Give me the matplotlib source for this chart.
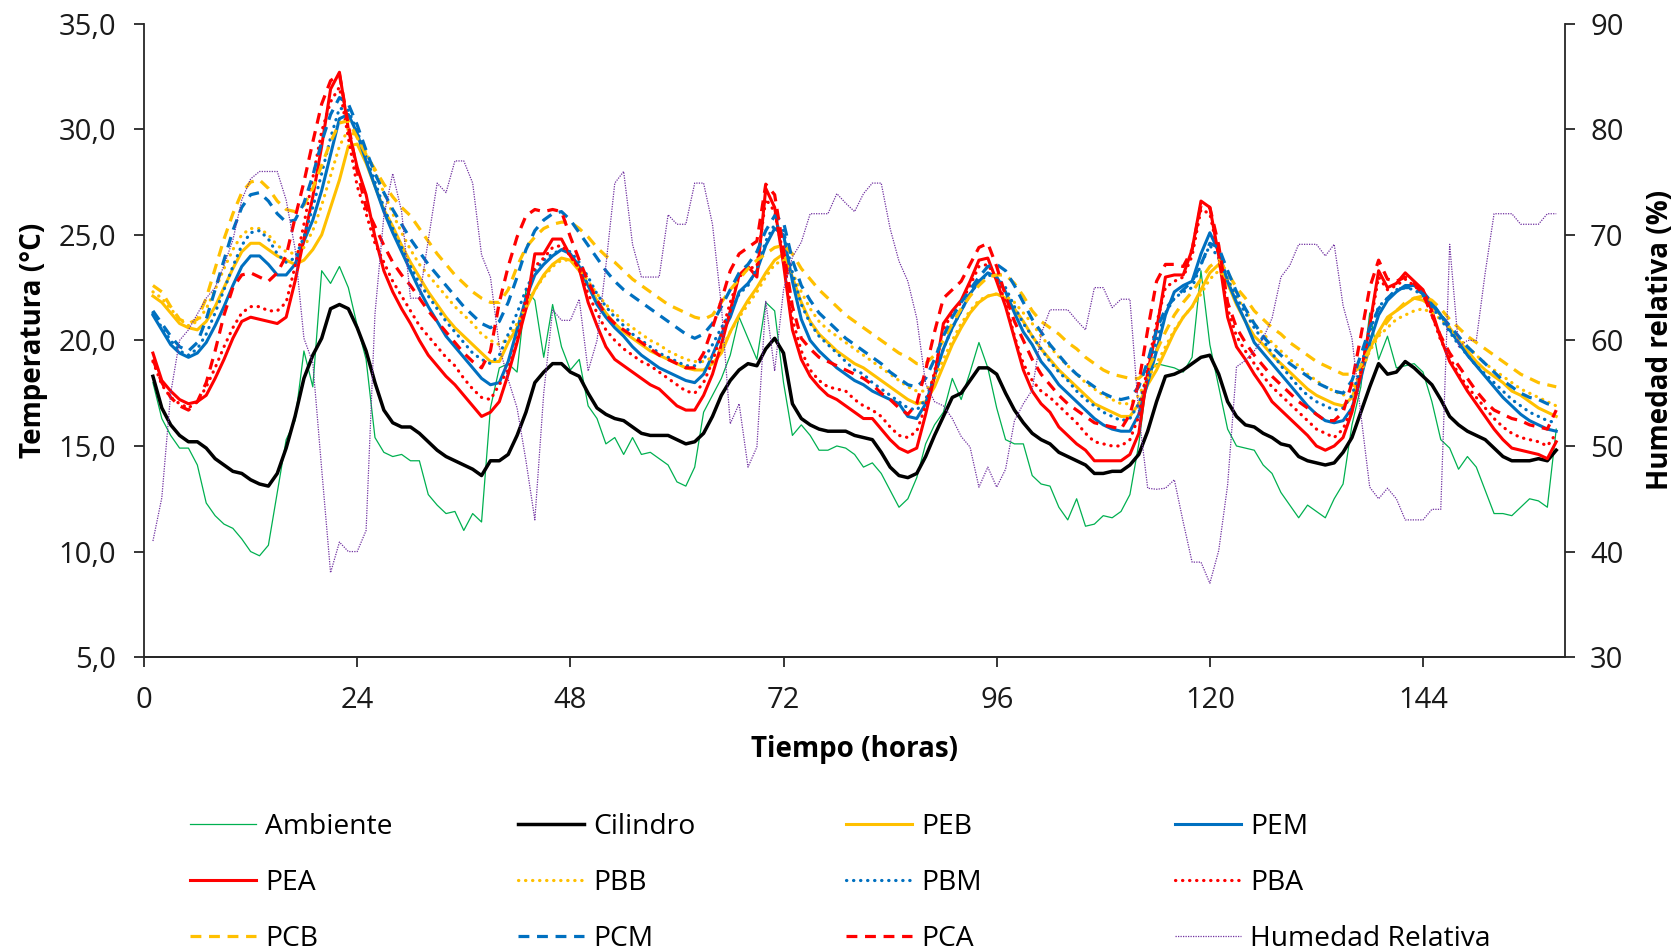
import matplotlib
matplotlib.use("Agg")
import matplotlib.pyplot as plt
import numpy as np
from matplotlib.ticker import FuncFormatter

plt.rcParams["font.family"] = ["Open Sans", "DejaVu Sans"]

# hourly readings, hour 1 .. 159
hours = np.arange(1, 160)

ambiente = [
    18.0, 16.3, 15.5, 14.9, 14.9, 14.1, 12.3, 11.7, 11.3, 11.1,
    10.6, 10.0, 9.8, 10.3, 12.8, 15.3, 16.2, 19.5, 17.8, 23.3,
    22.7, 23.5, 22.5, 20.7, 19.1, 15.4, 14.7, 14.5, 14.6, 14.3,
    14.3, 12.7, 12.2, 11.8, 11.9, 11.0, 11.8, 11.4, 16.8, 18.7,
    18.9, 18.5, 22.4, 21.9, 19.2, 21.7, 19.7, 18.6, 19.1, 16.9,
    16.3, 15.1, 15.4, 14.6, 15.4, 14.6, 14.7, 14.4, 14.1, 13.3,
    13.1, 14.0, 16.6, 17.4, 18.2, 19.3, 21.1, 20.1, 19.1, 21.8,
    21.4, 18.0, 15.5, 16.0, 15.5, 14.8, 14.8, 15.0, 14.9, 14.6,
    14.0, 14.2, 13.7, 12.9, 12.1, 12.5, 13.5, 15.1, 16.0, 16.6,
    18.2, 17.2, 18.5, 19.9, 18.7, 16.8, 15.3, 15.1, 15.1, 13.6,
    13.2, 13.1, 12.1, 11.5, 12.5, 11.2, 11.3, 11.7, 11.6, 11.9,
    12.7, 15.1, 18.4, 18.9, 18.8, 18.7, 18.5, 19.2, 23.3, 19.8,
    17.8, 15.8, 15.0, 14.9, 14.8, 14.1, 13.7, 12.8, 12.2, 11.6,
    12.2, 11.9, 11.6, 12.5, 13.2, 16.0, 17.8, 21.3, 19.1, 20.2,
    18.7, 18.8, 18.9, 18.5, 17.1, 15.3, 14.9, 13.9, 14.5, 14.0,
    12.9, 11.8, 11.8, 11.7, 12.1, 12.5, 12.4, 12.1, 15.8,
]

cilindro = [
    18.3, 16.8, 16.0, 15.5, 15.2, 15.2, 14.9, 14.4, 14.1, 13.8,
    13.7, 13.4, 13.2, 13.1, 13.7, 14.9, 16.4, 18.2, 19.3, 20.1,
    21.5, 21.7, 21.5, 20.6, 19.5, 18.0, 16.7, 16.1, 15.9, 15.9,
    15.6, 15.2, 14.8, 14.5, 14.3, 14.1, 13.9, 13.6, 14.3, 14.3,
    14.6, 15.5, 16.6, 18.0, 18.5, 18.9, 18.9, 18.5, 18.3, 17.5,
    16.8, 16.5, 16.3, 16.2, 15.9, 15.6, 15.5, 15.5, 15.5, 15.3,
    15.1, 15.2, 15.6, 16.4, 17.4, 18.1, 18.6, 18.9, 18.8, 19.6,
    20.1, 19.4, 17.0, 16.3, 16.0, 15.8, 15.7, 15.7, 15.7, 15.5,
    15.4, 15.3, 14.7, 14.0, 13.6, 13.5, 13.7, 14.5, 15.5, 16.4,
    17.3, 17.5, 18.1, 18.7, 18.7, 18.4, 17.5, 16.7, 16.1, 15.6,
    15.3, 15.1, 14.7, 14.5, 14.3, 14.1, 13.7, 13.7, 13.8, 13.8,
    14.1, 14.6, 15.7, 17.1, 18.3, 18.4, 18.6, 18.9, 19.2, 19.3,
    18.4, 17.1, 16.4, 16.0, 15.9, 15.6, 15.4, 15.1, 15.0, 14.5,
    14.3, 14.2, 14.1, 14.2, 14.7, 15.4, 16.6, 17.8, 18.9, 18.4,
    18.5, 19.0, 18.7, 18.3, 17.9, 17.2, 16.4, 16.0, 15.7, 15.5,
    15.3, 14.9, 14.5, 14.3, 14.3, 14.3, 14.4, 14.3, 14.8,
]

peb = [
    22.1, 21.8, 21.3, 20.8, 20.6, 20.5, 20.9, 21.6, 22.5, 23.4,
    24.2, 24.6, 24.6, 24.3, 24.0, 23.8, 23.6, 23.8, 24.3, 25.0,
    26.3, 27.6, 29.2, 29.3, 28.4, 27.3, 26.2, 25.4, 24.5, 23.7,
    23.0, 22.3, 21.7, 21.1, 20.6, 20.2, 19.8, 19.4, 19.0, 19.0,
    19.9, 20.6, 21.5, 22.4, 23.1, 23.6, 23.9, 23.8, 23.3, 22.6,
    21.9, 21.3, 20.8, 20.4, 20.1, 19.8, 19.5, 19.3, 19.1, 18.9,
    18.7, 18.6, 18.6, 18.9, 19.4, 20.4, 21.2, 21.9, 22.5, 23.2,
    23.8, 24.1, 23.0, 21.8, 20.9, 20.3, 19.9, 19.5, 19.2, 18.9,
    18.7, 18.4, 18.1, 17.8, 17.5, 17.2, 17.0, 17.1, 17.8, 18.8,
    19.8, 20.6, 21.3, 21.8, 22.1, 22.2, 22.0, 21.5, 20.9, 20.2,
    19.6, 19.1, 18.6, 18.2, 17.8, 17.4, 17.0, 16.8, 16.6, 16.4,
    16.4, 17.0, 17.9, 18.6, 19.5, 20.4, 21.1, 21.6, 22.4, 23.2,
    23.6, 22.7, 21.7, 20.9, 20.2, 19.8, 19.3, 18.9, 18.5, 18.1,
    17.7, 17.4, 17.2, 17.0, 16.9, 17.3, 18.4, 19.6, 20.4, 21.1,
    21.4, 21.7, 22.0, 21.9, 21.6, 21.2, 20.6, 20.0, 19.5, 19.0,
    18.6, 18.3, 18.0, 17.6, 17.4, 17.1, 16.8, 16.6, 16.4,
]

pem = [
    21.2, 20.5, 19.8, 19.4, 19.2, 19.4, 19.9, 20.7, 21.6, 22.6,
    23.5, 24.0, 24.0, 23.6, 23.1, 23.1, 23.6, 24.7, 25.7, 27.1,
    28.8, 30.5, 30.7, 29.8, 28.5, 27.3, 26.1, 25.1, 24.2, 23.3,
    22.4, 21.6, 20.9, 20.2, 19.7, 19.2, 18.7, 18.2, 17.9, 18.0,
    19.0, 20.5, 22.0, 23.1, 23.6, 24.0, 24.3, 24.1, 23.5, 22.6,
    21.7, 21.1, 20.6, 20.2, 19.7, 19.3, 19.0, 18.7, 18.5, 18.3,
    18.1, 18.0, 18.4, 19.3, 20.3, 21.1, 22.3, 22.7, 23.3, 24.5,
    25.3, 25.0, 22.8, 21.0, 20.0, 19.5, 19.1, 18.7, 18.4, 18.1,
    17.9, 17.6, 17.4, 17.2, 17.0, 16.4, 16.3, 17.0, 18.3, 19.6,
    20.6, 21.4, 22.2, 22.8, 23.2, 23.0, 22.3, 21.3, 20.4, 19.8,
    19.0, 18.5, 17.9, 17.5, 17.1, 16.7, 16.3, 16.0, 15.8, 15.7,
    15.7, 16.5, 18.0, 19.5, 21.2, 22.3, 22.6, 22.8, 24.1, 25.1,
    24.2, 22.8, 21.8, 20.9, 19.9, 19.4, 18.9, 18.4, 17.9, 17.4,
    16.9, 16.5, 16.2, 16.1, 16.2, 16.8, 18.2, 19.9, 21.2, 21.9,
    22.3, 22.6, 22.6, 22.3, 21.8, 21.2, 20.5, 19.9, 19.3, 18.8,
    18.3, 17.8, 17.3, 16.9, 16.5, 16.2, 16.0, 15.8, 15.7,
]

pea = [
    19.4, 18.1, 17.6, 17.2, 17.0, 17.1, 17.4, 18.2, 19.1, 20.1,
    20.9, 21.1, 21.0, 20.9, 20.8, 21.1, 22.8, 24.8, 26.8, 29.2,
    31.9, 32.7, 30.0, 28.2, 26.9, 24.9, 23.3, 22.3, 21.5, 20.8,
    20.0, 19.3, 18.8, 18.3, 17.9, 17.4, 16.9, 16.4, 16.6, 17.1,
    18.4, 19.9, 21.5, 24.1, 24.1, 24.8, 24.8, 24.0, 23.4, 21.8,
    20.7, 19.7, 19.1, 18.8, 18.5, 18.2, 17.9, 17.7, 17.3, 16.9,
    16.7, 16.7, 17.4, 18.4, 19.8, 21.4, 23.1, 23.5, 23.0, 27.2,
    26.3, 23.6, 20.5, 19.1, 18.3, 17.8, 17.4, 17.2, 16.9, 16.6,
    16.3, 16.3, 15.8, 15.3, 14.9, 14.7, 14.9, 16.5, 18.3, 20.8,
    21.4, 21.9, 22.8, 23.8, 23.9, 22.8, 21.6, 20.1, 18.6, 17.6,
    17.0, 16.6, 15.9, 15.5, 15.1, 14.8, 14.3, 14.3, 14.3, 14.3,
    14.6, 15.6, 18.5, 20.5, 23.0, 23.1, 23.1, 24.3, 26.6, 26.3,
    24.0, 21.1, 19.7, 19.1, 18.4, 17.8, 17.1, 16.7, 16.3, 15.9,
    15.5, 15.0, 14.8, 15.0, 15.4, 16.6, 18.4, 20.7, 23.3, 22.5,
    22.7, 23.2, 22.8, 22.4, 21.4, 20.1, 19.0, 18.3, 17.6, 17.0,
    16.4, 15.8, 15.3, 14.9, 14.8, 14.7, 14.6, 14.4, 15.2,
]

pbb = [
    22.3, 22.0, 21.5, 21.0, 20.7, 20.9, 21.5, 22.4, 23.4, 24.3,
    25.0, 25.3, 25.3, 25.0, 24.5, 24.2, 24.1, 24.4, 25.2, 26.4,
    27.8, 29.2, 30.0, 29.6, 28.9, 28.0, 27.0, 26.0, 25.1, 24.3,
    23.6, 23.1, 22.6, 22.1, 21.6, 21.2, 20.8, 20.3, 20.0, 19.8,
    20.1, 20.8, 21.6, 22.4, 23.0, 23.5, 23.8, 23.8, 23.4, 22.8,
    22.2, 21.7, 21.3, 20.9, 20.6, 20.3, 20.0, 19.8, 19.5, 19.3,
    19.1, 19.0, 19.0, 19.2, 19.6, 20.4, 21.1, 21.7, 22.3, 23.0,
    23.6, 23.8, 23.2, 22.3, 21.5, 20.9, 20.5, 20.2, 19.9, 19.6,
    19.3, 19.0, 18.7, 18.4, 18.1, 17.8, 17.6, 17.6, 18.2, 19.1,
    20.0, 20.8, 21.4, 21.9, 22.1, 22.2, 22.1, 21.8, 21.3, 20.8,
    20.2, 19.7, 19.2, 18.8, 18.4, 18.0, 17.7, 17.4, 17.2, 17.0,
    17.0, 17.4, 18.2, 18.9, 19.7, 20.5, 21.1, 21.6, 22.2, 22.9,
    23.3, 22.9, 22.1, 21.4, 20.8, 20.3, 19.9, 19.5, 19.1, 18.8,
    18.4, 18.1, 17.8, 17.6, 17.4, 17.7, 18.5, 19.5, 20.2, 20.6,
    21.0, 21.2, 21.4, 21.5, 21.3, 21.0, 20.6, 20.1, 19.7, 19.3,
    18.9, 18.6, 18.3, 18.0, 17.7, 17.5, 17.3, 17.1, 16.9,
]

pbm = [
    21.3, 20.6, 20.0, 19.5, 19.3, 19.6, 20.3, 21.3, 22.4, 23.5,
    24.5, 25.1, 25.2, 24.8, 24.1, 23.7, 23.9, 24.9, 26.3, 27.9,
    29.6, 31.0, 30.9, 29.9, 28.7, 27.5, 26.3, 25.3, 24.4, 23.5,
    22.7, 22.1, 21.5, 20.9, 20.4, 19.9, 19.4, 19.1, 18.9, 19.3,
    20.3, 21.3, 22.4, 23.3, 23.8, 24.1, 24.3, 24.2, 23.7, 23.0,
    22.2, 21.6, 21.1, 20.7, 20.3, 20.0, 19.7, 19.4, 19.2, 19.0,
    18.8, 18.8, 19.1, 19.8, 20.6, 21.3, 22.2, 22.6, 23.4, 24.7,
    25.5, 25.2, 23.2, 21.7, 20.8, 20.2, 19.8, 19.4, 19.0, 18.6,
    18.4, 18.0, 17.7, 17.4, 17.1, 16.8, 16.7, 17.2, 18.3, 19.6,
    20.6, 21.4, 22.2, 22.8, 23.1, 23.0, 22.5, 21.6, 20.8, 20.2,
    19.6, 19.0, 18.5, 18.1, 17.6, 17.2, 16.9, 16.6, 16.4, 16.2,
    16.3, 17.0, 18.4, 20.0, 21.3, 22.0, 22.3, 22.5, 23.6, 24.5,
    23.9, 22.9, 22.0, 21.3, 20.6, 20.0, 19.4, 18.8, 18.3, 17.8,
    17.4, 17.1, 16.9, 16.7, 16.8, 17.4, 18.7, 20.4, 21.6, 22.0,
    22.4, 22.5, 22.4, 22.1, 21.6, 21.0, 20.4, 19.8, 19.3, 18.8,
    18.4, 18.0, 17.6, 17.2, 16.9, 16.6, 16.4, 16.2, 16.1,
]

pba = [
    19.0, 17.9, 17.3, 17.0, 16.8, 17.1, 17.8, 18.7, 19.7, 20.6,
    21.3, 21.6, 21.6, 21.4, 21.4, 21.8, 23.5, 25.5, 27.7, 29.9,
    31.3, 32.0, 29.6, 27.3, 26.0, 24.6, 23.7, 22.8, 22.1, 21.4,
    20.7, 20.2, 19.7, 19.2, 18.8, 18.2, 17.7, 17.3, 17.2, 17.9,
    18.6, 20.0, 22.0, 23.5, 23.9, 24.4, 24.5, 24.0, 23.4, 22.2,
    21.3, 20.5, 20.0, 19.6, 19.3, 19.0, 18.8, 18.5, 18.2, 17.9,
    17.6, 17.5, 18.0, 19.0, 20.3, 21.8, 23.0, 23.4, 23.5, 26.7,
    26.1, 24.0, 21.0, 19.5, 18.6, 18.1, 17.8, 17.7, 17.6, 17.2,
    16.9, 16.7, 16.4, 15.9, 15.5, 15.4, 15.7, 16.9, 18.5, 20.5,
    21.3, 21.8, 22.6, 23.5, 23.6, 22.9, 21.8, 20.2, 18.9, 18.1,
    17.6, 17.3, 16.9, 16.5, 16.1, 15.6, 15.2, 15.1, 15.0, 15.0,
    15.3, 16.4, 18.8, 20.8, 22.5, 22.8, 23.0, 24.0, 26.2, 26.0,
    24.0, 21.5, 20.2, 19.5, 18.9, 18.3, 17.8, 17.4, 17.0, 16.6,
    16.2, 15.8, 15.6, 15.4, 15.8, 16.8, 18.5, 20.6, 23.0, 22.4,
    22.6, 22.9, 22.6, 22.2, 21.2, 20.0, 19.2, 18.4, 17.8, 17.3,
    16.8, 16.3, 15.9, 15.6, 15.4, 15.3, 15.2, 15.0, 15.6,
]

pcb = [
    22.6, 22.3, 21.6, 21.0, 20.8, 21.0, 22.0, 23.4, 24.8, 26.0,
    27.0, 27.5, 27.6, 27.2, 26.6, 26.2, 26.1, 26.4, 27.2, 28.3,
    29.4, 30.3, 30.4, 29.6, 28.8, 28.1, 27.4, 26.8, 26.3, 25.9,
    25.3, 24.7, 24.1, 23.6, 23.1, 22.7, 22.3, 22.0, 21.8, 21.8,
    22.4, 23.5, 24.4, 24.9, 25.3, 25.5, 25.6, 25.6, 25.3, 24.9,
    24.4, 24.0, 23.7, 23.3, 22.9, 22.6, 22.3, 22.0, 21.7, 21.5,
    21.3, 21.1, 21.0, 21.2, 21.8, 22.4, 22.9, 23.4, 23.8, 24.1,
    24.4, 24.5, 24.1, 23.4, 22.9, 22.4, 22.0, 21.6, 21.2, 20.9,
    20.6, 20.3, 20.0, 19.7, 19.4, 19.2, 18.9, 18.9, 19.3, 20.0,
    20.8, 21.5, 22.1, 22.6, 23.0, 23.1, 23.1, 22.7, 22.1, 21.4,
    20.9, 20.6, 20.3, 19.9, 19.6, 19.2, 18.9, 18.6, 18.4, 18.3,
    18.2, 18.2, 18.6, 19.5, 20.4, 21.2, 21.8, 22.3, 22.9, 23.5,
    23.8, 23.2, 22.5, 22.0, 21.4, 21.0, 20.6, 20.3, 19.9, 19.6,
    19.3, 19.0, 18.8, 18.6, 18.4, 18.4, 18.8, 19.6, 20.3, 20.9,
    21.4, 21.8, 22.0, 22.1, 21.9, 21.5, 21.0, 20.6, 20.2, 19.9,
    19.6, 19.3, 19.0, 18.7, 18.4, 18.2, 18.0, 17.9, 17.8,
]

pcm = [
    21.4, 20.8, 20.2, 19.7, 19.5, 19.9, 21.0, 22.4, 23.8, 25.2,
    26.3, 26.9, 27.0, 26.6, 26.0, 25.6, 25.7, 26.5, 27.8, 29.4,
    30.7, 31.5, 31.2, 30.2, 29.0, 27.9, 27.0, 26.2, 25.5, 24.8,
    24.2, 23.6, 23.1, 22.6, 22.1, 21.6, 21.2, 20.8, 20.6, 20.9,
    21.8, 23.0, 24.3, 25.2, 25.7, 26.0, 26.1, 25.7, 25.1, 24.5,
    23.9, 23.3, 22.8, 22.4, 22.1, 21.8, 21.5, 21.2, 20.9, 20.6,
    20.3, 20.1, 20.3, 20.8, 21.6, 22.4, 23.2, 23.6, 24.2, 25.2,
    25.9, 25.6, 23.8, 22.6, 21.9, 21.3, 20.9, 20.5, 20.1, 19.8,
    19.5, 19.2, 18.9, 18.5, 18.2, 17.9, 17.8, 18.2, 19.1, 20.2,
    21.1, 21.8, 22.4, 23.0, 23.5, 23.6, 23.3, 22.6, 21.8, 21.0,
    20.4, 19.8, 19.3, 18.8, 18.4, 18.1, 17.8, 17.5, 17.3, 17.2,
    17.3, 17.8, 19.0, 20.5, 21.5, 22.0, 22.4, 22.8, 23.6, 24.6,
    24.4, 23.3, 22.3, 21.5, 20.8, 20.2, 19.7, 19.3, 18.9, 18.6,
    18.3, 18.0, 17.8, 17.6, 17.5, 18.1, 19.3, 20.6, 21.5, 22.0,
    22.4, 22.5, 22.5, 22.2, 21.7, 21.2, 20.7, 20.2, 19.7, 19.3,
    18.9, 18.5, 18.1, 17.8, 17.5, 17.3, 17.2, 17.0, 16.9,
]

pca = [
    19.1, 18.0, 17.3, 16.9, 16.7, 17.1, 18.0, 19.5, 21.2, 22.5,
    23.1, 23.2, 23.0, 22.8, 23.2, 24.0, 25.8, 27.5, 29.4, 31.2,
    32.3, 32.6, 30.2, 28.0, 26.3, 25.4, 24.5, 23.7, 23.1, 22.6,
    22.0, 21.4, 20.9, 20.4, 19.9, 19.4, 19.0, 18.7, 19.5, 21.8,
    23.5, 24.9, 25.9, 26.2, 26.1, 26.2, 26.1, 24.9, 23.8, 22.8,
    21.9, 21.2, 20.8, 20.5, 20.2, 19.9, 19.6, 19.3, 19.1, 18.9,
    18.7, 18.7, 19.4, 20.6, 21.9, 23.3, 24.1, 24.4, 24.7, 27.4,
    26.9, 24.3, 21.6, 20.1, 19.6, 19.2, 19.0, 18.8, 18.6, 18.4,
    18.2, 17.9, 17.5, 17.2, 16.8, 16.5, 17.0, 18.6, 20.4, 22.0,
    22.4, 22.8, 23.6, 24.4, 24.6, 23.5, 22.1, 20.9, 20.0, 19.1,
    18.4, 17.9, 17.4, 17.0, 16.7, 16.4, 16.1, 16.0, 15.9, 15.8,
    16.5, 18.0, 20.5, 22.8, 23.6, 23.6, 23.5, 24.3, 26.4, 26.3,
    24.5, 21.8, 20.6, 19.9, 19.3, 18.8, 18.3, 17.9, 17.5, 17.1,
    16.8, 16.5, 16.2, 16.2, 16.6, 18.0, 20.2, 22.5, 23.8, 22.9,
    22.8, 23.0, 22.7, 22.2, 21.2, 20.2, 19.4, 18.8, 18.2, 17.6,
    17.1, 16.7, 16.5, 16.3, 16.2, 16.0, 15.9, 15.8, 16.7,
]

humedad = [
    41.0, 45.1, 55.0, 60.0, 61.0, 62.5, 64.0, 65.0, 67.1, 69.5,
    73.3, 75.3, 76.0, 76.0, 76.0, 73.3, 68.7, 60.2, 57.9, 47.8,
    38.0, 40.9, 40.0, 40.0, 42.0, 62.5, 71.8, 75.8, 72.2, 64.0,
    64.0, 69.5, 74.9, 74.0, 77.0, 77.0, 74.9, 68.1, 66.0, 59.4,
    56.3, 53.6, 48.6, 43.0, 55.0, 62.9, 61.9, 61.9, 63.9, 57.1,
    60.0, 67.1, 74.9, 76.0, 69.1, 66.0, 66.0, 66.0, 71.9, 71.0,
    71.0, 74.9, 74.9, 71.0, 63.3, 52.1, 54.0, 48.0, 49.9, 63.7,
    57.1, 64.8, 67.9, 69.3, 72.0, 72.0, 72.0, 73.9, 73.0, 72.2,
    73.9, 74.9, 74.9, 70.6, 67.5, 65.6, 62.1, 55.9, 54.2, 53.8,
    52.6, 50.9, 49.9, 46.1, 48.0, 46.1, 47.8, 52.4, 54.0, 55.3,
    60.6, 62.9, 62.9, 62.9, 61.9, 61.0, 65.0, 65.0, 63.1, 63.9,
    63.9, 53.0, 46.0, 45.9, 46.0, 46.8, 42.8, 39.0, 39.0, 37.0,
    40.1, 46.3, 57.5, 58.1, 59.0, 60.2, 62.1, 66.0, 67.1, 69.1,
    69.1, 69.1, 68.0, 69.1, 63.3, 60.2, 53.0, 46.1, 45.0, 46.0,
    45.0, 43.0, 43.0, 43.0, 44.0, 44.0, 69.1, 59.4, 60.0, 60.0,
    66.4, 72.0, 72.0, 72.0, 71.0, 71.0, 71.0, 72.0, 72.0,
]

YELLOW, BLUE, RED = "#FFC000", "#0070C0", "#FF0000"
DOT = (0, (0.1, 2.1))
DASH = (0, (3.4, 2.4))

series = [
    ("Ambiente", ambiente, "#00B050", "-", 0.9),
    ("Cilindro", cilindro, "black", "-", 2.5),
    ("PEB", peb, YELLOW, "-", 2.2),
    ("PEM", pem, BLUE, "-", 2.2),
    ("PEA", pea, RED, "-", 2.2),
    ("PBB", pbb, YELLOW, DOT, 2.3),
    ("PBM", pbm, BLUE, DOT, 2.3),
    ("PBA", pba, RED, DOT, 2.3),
    ("PCB", pcb, YELLOW, DASH, 2.3),
    ("PCM", pcm, BLUE, DASH, 2.3),
    ("PCA", pca, RED, DASH, 2.3),
]

fig = plt.figure(figsize=(16.75, 9.51), dpi=100)
ax = fig.add_axes([0.086, 0.309, 0.8484, 0.6661])
ax2 = ax.twinx()

handles = {}
for name, vals, color, ls, lw in series:
    (line,) = ax.plot(hours, vals, color=color, linestyle=ls, linewidth=lw,
                      dash_capstyle="round" if ls is DOT else "butt", label=name)
    handles[name] = line
(line,) = ax2.plot(hours, humedad, color="#7030A0", linestyle=(0, (1, 1)),
                   linewidth=0.9, label="Humedad Relativa")
handles["Humedad Relativa"] = line

ax.set_xlim(0, 160)
ax.set_ylim(5, 35)
ax2.set_ylim(30, 90)
ax.set_xticks(range(0, 145, 24))
ax.set_yticks(range(5, 36, 5))
ax2.set_yticks(range(30, 91, 10))
ax.yaxis.set_major_formatter(FuncFormatter(lambda v, p: f"{v:.1f}".replace(".", ",")))

for a in (ax, ax2):
    a.spines["top"].set_visible(False)
    for s in a.spines.values():
        s.set_linewidth(1.3)
        s.set_color("#262626")
    a.tick_params(labelsize=21, length=7, width=1.3, color="#262626",
                  labelcolor="#1a1a1a")
ax.tick_params(axis="x", pad=14)
ax.tick_params(axis="y", pad=13)
ax2.tick_params(axis="y", pad=11)
ax2.spines["left"].set_visible(False)
ax.spines["right"].set_visible(False)

ax.set_xlabel("Tiempo (horas)", fontsize=20, fontweight="bold", labelpad=14)
ax.set_ylabel("Temperatura (°C)", fontsize=20, fontweight="bold", labelpad=8)
ax2.set_ylabel("Humedad relativa (%)", fontsize=20, fontweight="bold",
               rotation=90, labelpad=16)

columns = [
    ["Ambiente", "PEA", "PCB"],
    ["Cilindro", "PBB", "PCM"],
    ["PEB", "PBM", "PCA"],
    ["PEM", "PBA", "Humedad Relativa"],
]
col_x = [190, 518, 846, 1175]
for names, x in zip(columns, col_x):
    fig.legend([handles[n] for n in names], names, loc="upper left",
               bbox_to_anchor=(x / 1675, 1 - 813 / 951), frameon=False,
               fontsize=20.3, handlelength=2.34, handletextpad=0.33,
               labelspacing=0.99, borderpad=0, borderaxespad=0)

fig.savefig("out.png", dpi=100)
